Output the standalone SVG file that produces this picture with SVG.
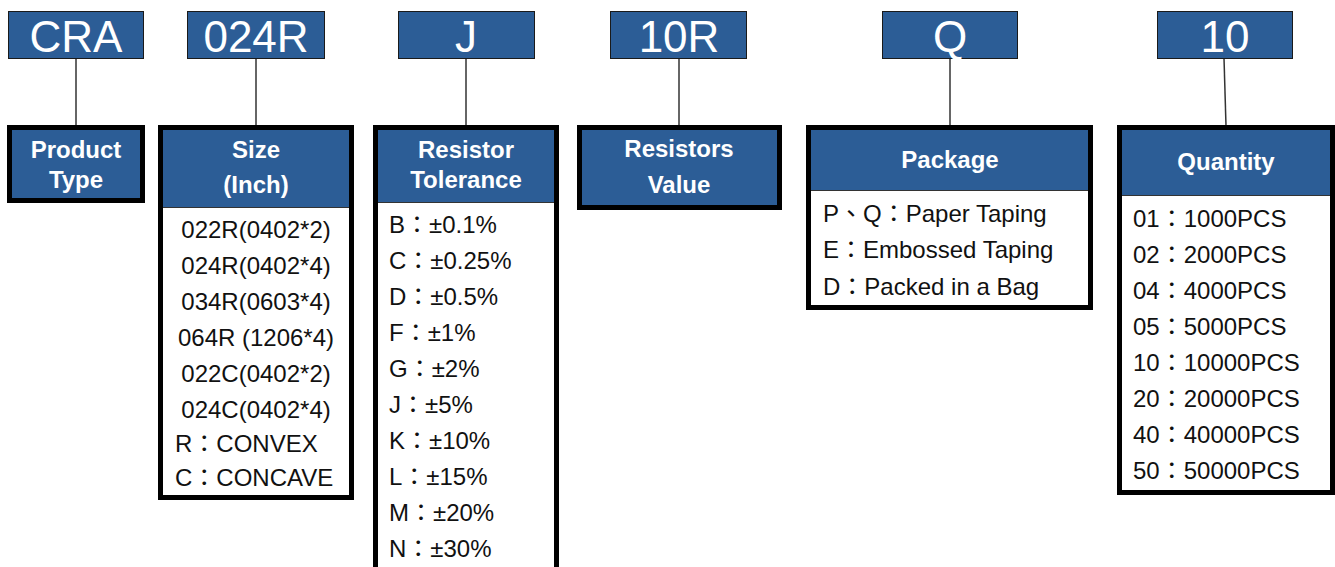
<svg xmlns="http://www.w3.org/2000/svg" width="1335" height="567" viewBox="0 0 1335 567">
<style>
.code{fill:#2c5d96;stroke:#1a1a1a;stroke-width:1}
.codet{font-family:"Liberation Sans",Arial,sans-serif;font-size:44px;fill:#fff;text-anchor:middle}
.frame{fill:#fff;stroke:#000;stroke-width:5}
.head{fill:#2c5d96}
.sep{stroke:#333;stroke-width:1}
.ht{font-family:"Liberation Sans",Arial,sans-serif;font-weight:bold;font-size:24px;fill:#fff;text-anchor:middle}
.li{font-family:"Liberation Sans","Noto Sans CJK TC",sans-serif;font-size:24px;fill:#111}
.mid{text-anchor:middle}
.conn line{stroke:#333;stroke-width:1.5}
</style>
<rect width="1335" height="567" fill="#fff"/>
<g class="conn" id="connectors">
<line x1="76" y1="58" x2="76" y2="126"/>
<line x1="256" y1="58" x2="256" y2="126"/>
<line x1="466" y1="58" x2="466" y2="126"/>
<line x1="679" y1="58" x2="679" y2="126"/>
<line x1="950" y1="58" x2="950" y2="126"/>
<line x1="1224" y1="58" x2="1226" y2="126"/>
</g>
<g id="code-cra"><rect class="code" x="8.5" y="11.5" width="135" height="47"/><text class="codet" x="76" y="52">CRA</text></g>
<g id="code-024r"><rect class="code" x="187.5" y="11.5" width="137" height="47"/><text class="codet" x="256" y="52">024R</text></g>
<g id="code-j"><rect class="code" x="398.5" y="11.5" width="136" height="47"/><text class="codet" x="466" y="52">J</text></g>
<g id="code-10r"><rect class="code" x="610.5" y="11.5" width="136" height="47"/><text class="codet" x="679" y="52">10R</text></g>
<g id="code-q"><rect class="code" x="882.5" y="11.5" width="135" height="47"/><text class="codet" x="950" y="52">Q</text></g>
<g id="code-10"><rect class="code" x="1157.5" y="11.5" width="135" height="47"/><text class="codet" x="1225" y="52">10</text></g>

<g id="product-type">
<rect class="frame" x="9.5" y="127.5" width="133" height="73"/>
<rect class="head" x="12" y="130" width="128" height="68"/>
<text class="ht" x="76" y="158">Product</text>
<text class="ht" x="76" y="188">Type</text>
</g>

<g id="size">
<rect class="frame" x="160.5" y="127.5" width="191" height="370"/>
<rect class="head" x="163" y="130" width="186" height="77"/>
<line class="sep" x1="163" y1="207.5" x2="349" y2="207.5"/>
<text class="ht" x="256" y="158">Size</text>
<text class="ht" x="256" y="193">(Inch)</text>
<text class="li mid" x="256" y="238">022R(0402*2)</text>
<text class="li mid" x="256" y="274">024R(0402*4)</text>
<text class="li mid" x="256" y="310">034R(0603*4)</text>
<text class="li mid" x="256" y="346">064R (1206*4)</text>
<text class="li mid" x="256" y="382">022C(0402*2)</text>
<text class="li mid" x="256" y="418">024C(0402*4)</text>
<text class="li" x="175" y="452">R：CONVEX</text>
<text class="li" x="175" y="486">C：CONCAVE</text>
</g>

<g id="tolerance">
<rect class="frame" x="375.5" y="127.5" width="181" height="470"/>
<rect class="head" x="378" y="130" width="176" height="72"/>
<line class="sep" x1="378" y1="202.5" x2="554" y2="202.5"/>
<text class="ht" x="466" y="158">Resistor</text>
<text class="ht" x="466" y="188">Tolerance</text>
<text class="li" x="389" y="233">B：±0.1%</text>
<text class="li" x="389" y="269">C：±0.25%</text>
<text class="li" x="389" y="305">D：±0.5%</text>
<text class="li" x="389" y="341">F：±1%</text>
<text class="li" x="389" y="377">G：±2%</text>
<text class="li" x="389" y="413">J：±5%</text>
<text class="li" x="389" y="449">K：±10%</text>
<text class="li" x="389" y="485">L：±15%</text>
<text class="li" x="389" y="521">M：±20%</text>
<text class="li" x="389" y="557">N：±30%</text>
</g>

<g id="resistors-value">
<rect class="frame" x="579.5" y="127.5" width="200" height="80"/>
<rect class="head" x="582" y="130" width="195" height="75"/>
<text class="ht" x="679" y="157">Resistors</text>
<text class="ht" x="679" y="193">Value</text>
</g>

<g id="package">
<rect class="frame" x="808.5" y="127.5" width="282" height="180"/>
<rect class="head" x="811" y="130" width="277" height="60"/>
<line class="sep" x1="811" y1="190.5" x2="1088" y2="190.5"/>
<text class="ht" x="950" y="168">Package</text>
<text class="li" x="823" y="222">P、Q：Paper Taping</text>
<text class="li" x="823" y="258">E：Embossed Taping</text>
<text class="li" x="823" y="295">D：Packed in a Bag</text>
</g>

<g id="quantity">
<rect class="frame" x="1119.5" y="127.5" width="213" height="365"/>
<rect class="head" x="1122" y="130" width="208" height="65"/>
<line class="sep" x1="1122" y1="195.5" x2="1330" y2="195.5"/>
<text class="ht" x="1226" y="170">Quantity</text>
<text class="li" x="1133" y="227">01：1000PCS</text>
<text class="li" x="1133" y="263">02：2000PCS</text>
<text class="li" x="1133" y="299">04：4000PCS</text>
<text class="li" x="1133" y="335">05：5000PCS</text>
<text class="li" x="1133" y="371">10：10000PCS</text>
<text class="li" x="1133" y="407">20：20000PCS</text>
<text class="li" x="1133" y="443">40：40000PCS</text>
<text class="li" x="1133" y="479">50：50000PCS</text>
</g>
</svg>
